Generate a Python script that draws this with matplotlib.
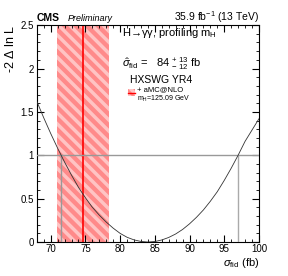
import numpy as np
import matplotlib.pyplot as plt
from matplotlib.patches import Rectangle

# scan de verossimilhanca
sigma = [68, 69, 70, 71, 71.5, 72, 73, 74, 75, 76, 77, 78, 79, 80, 81, 82, 83, 84,
         85, 86, 87, 88, 89, 90, 91, 92, 93, 94, 95, 96, 97, 98, 99, 100]
nll = [1.62, 1.43, 1.25, 1.08, 1.0, 0.92, 0.77, 0.63, 0.51, 0.40, 0.31, 0.23, 0.16, 0.10,
       0.055, 0.025, 0.007, 0.0, 0.006, 0.024, 0.053, 0.093, 0.145, 0.21, 0.285, 0.37,
       0.47, 0.58, 0.71, 0.85, 1.0, 1.16, 1.29, 1.42]

# previsao teorica (HXSWG YR4)
pred_central = 74.65
pred_lo = 70.9
pred_hi = 78.4

# intervalo 1 sigma
cross_lo = 71.5
cross_hi = 97.0

plt.rcParams['font.family'] = ['Liberation Sans', 'DejaVu Sans']
plt.rcParams['mathtext.fontset'] = 'custom'
plt.rcParams['mathtext.rm'] = 'Liberation Sans'
plt.rcParams['mathtext.it'] = 'Liberation Sans:italic'
plt.rcParams['hatch.linewidth'] = 2.5

fig = plt.figure(figsize=(2.88, 2.76), dpi=100)
ax = fig.add_axes([0.128, 0.123, 0.771, 0.786])

# banda da previsao
ax.axvspan(pred_lo, pred_hi, facecolor='#ff8a8a', edgecolor='#ffc4c4',
           hatch='\\\\\\', linewidth=0, zorder=1)
ax.axvline(pred_central, color='red', lw=1.2, zorder=2)

# linhas de referencia
ax.axhline(1.0, color='#999999', lw=1.0, zorder=3)
ax.plot([cross_lo, cross_lo], [0, 1], color='#999999', lw=1.0, zorder=3)
ax.plot([cross_hi, cross_hi], [0, 1], color='#aaaaaa', lw=1.0, zorder=3)

ax.plot(sigma, nll, color='#333333', lw=0.6, zorder=4)

ax.set_xlim(68, 100)
ax.set_ylim(0, 2.5)
ax.set_xticks([70, 75, 80, 85, 90, 95, 100])
ax.set_xticks(np.arange(68, 101, 1), minor=True)
ax.set_yticks([0, 0.5, 1, 1.5, 2, 2.5])
ax.set_yticklabels(['0', '0.5', '1', '1.5', '2', '2.5'])
ax.set_yticks(np.arange(0, 2.51, 0.1), minor=True)
ax.tick_params(which='both', direction='in', top=True, right=True, labelsize=7, pad=2)
ax.tick_params(axis='x', pad=1.5)
ax.tick_params(which='major', length=5, width=0.8)
ax.tick_params(which='minor', length=2.5, width=0.6)
for s in ax.spines.values():
    s.set_linewidth(0.8)

ax.set_xlabel(r'$\sigma_{\mathrm{fid}}$ (fb)', fontsize=8, loc='right', labelpad=1)
ax.set_ylabel(r'-2 $\Delta$ ln L', fontsize=9, loc='top', labelpad=3)

fig.text(0.128, 0.925, 'CMS', fontsize=7.5, fontweight='bold')
fig.text(0.235, 0.925, 'Preliminary', fontsize=6.5, style='italic')
fig.text(0.899, 0.925, r'35.9 fb$^{-1}$ (13 TeV)', fontsize=7.5, ha='right')

ax.text(80.3, 2.38, r'H→γγ, profiling m$_{\mathrm{H}}$', fontsize=8)
ax.text(80.3, 2.02, r'$\hat{\sigma}_{\mathrm{fid}}$ =   84 $^{+\ 13}_{-\ 12}$ fb', fontsize=8)
ax.text(81.4, 1.83, 'HXSWG YR4', fontsize=7.5)

ax.add_patch(Rectangle((81.1, 1.68), 1.0, 0.08, facecolor='#ff8a8a', edgecolor='#ffc4c4',
                       hatch='\\\\\\\\', linewidth=0, zorder=5))
ax.plot([81.1, 82.1], [1.72, 1.72], color='red', lw=1.0, zorder=6)
ax.text(82.5, 1.72, '+ aMC@NLO', fontsize=5.5, va='bottom')
ax.text(82.5, 1.71, r'm$_{\mathrm{H}}$=125.09 GeV', fontsize=5, va='top')

fig.savefig('out.png', dpi=100)
